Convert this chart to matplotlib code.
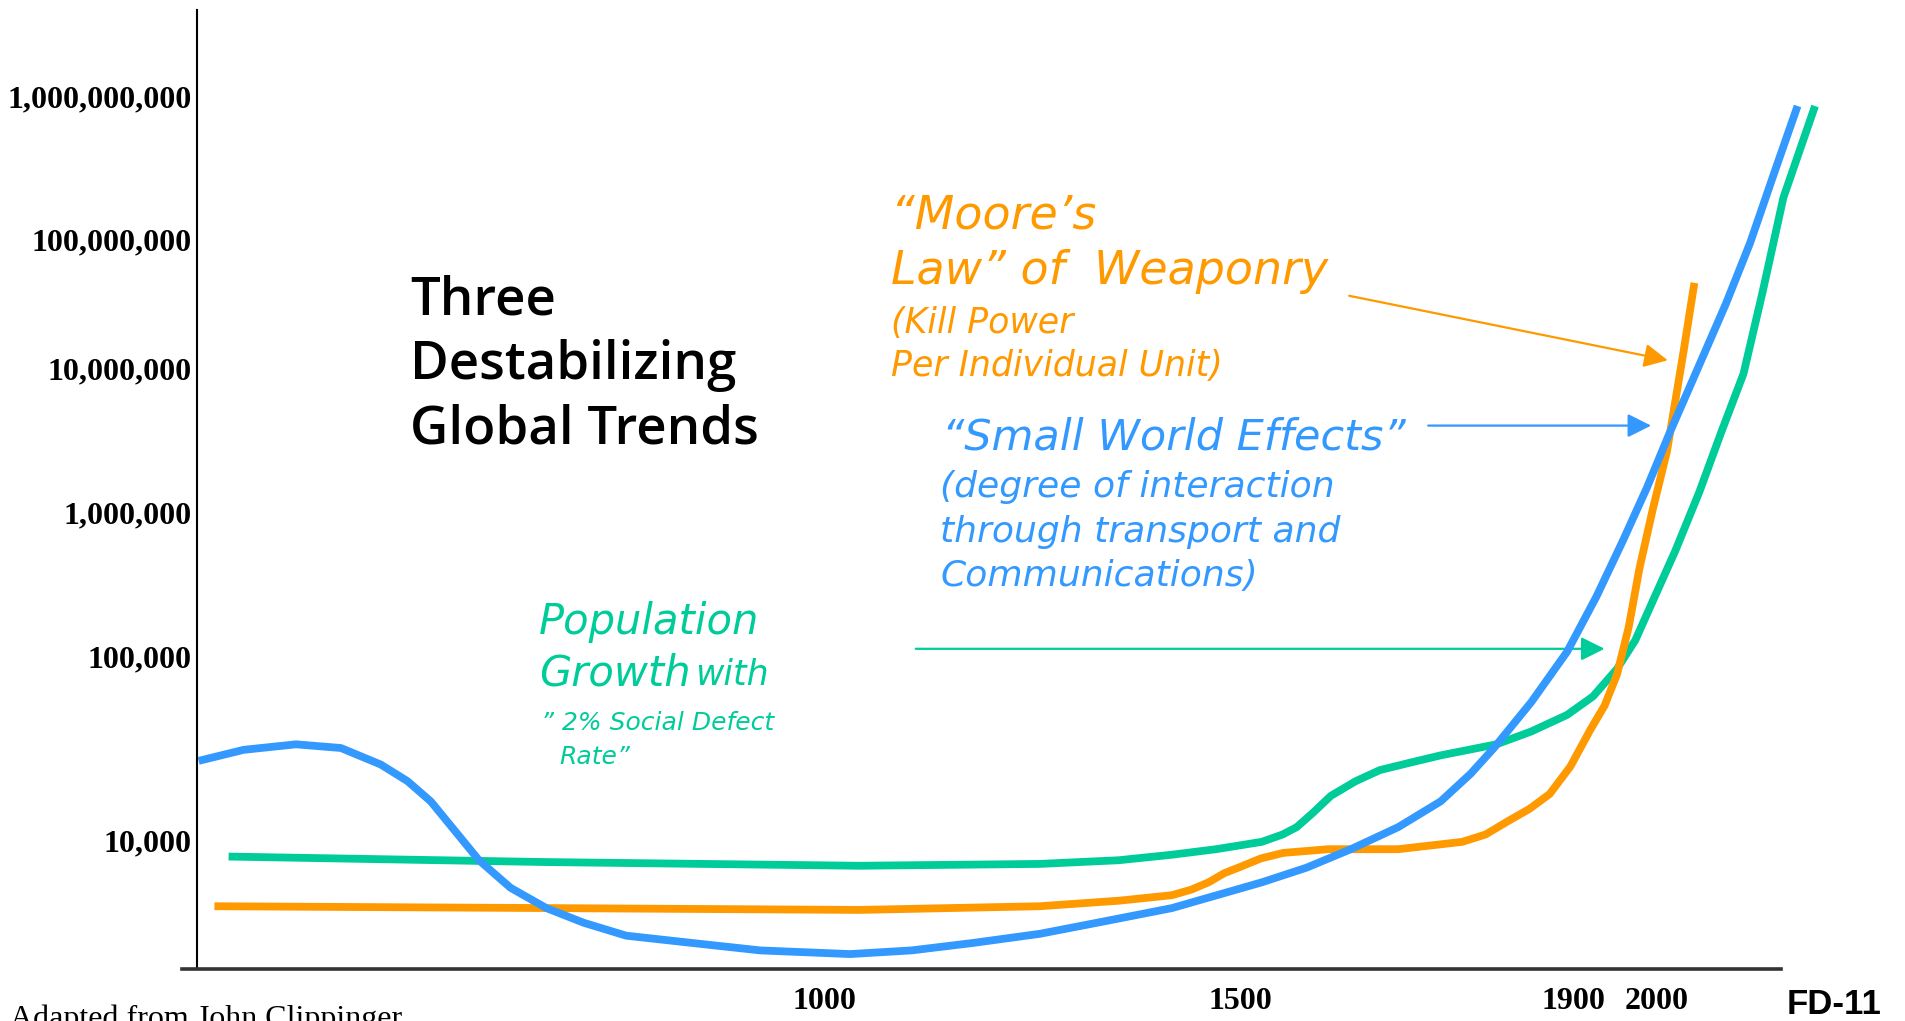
import numpy as np
import matplotlib.pyplot as plt

W, H = 1906, 1021

# curves: year vs order of magnitude (log10)
blue_year = [248, 302, 365, 419, 467, 499, 527, 556, 585, 623, 666, 711, 762, 842, 923,
             1031, 1105, 1178, 1259, 1339, 1418, 1526, 1580, 1633, 1690, 1741, 1777,
             1805, 1850, 1893, 1928, 1960, 1989, 2017, 2045, 2084, 2113, 2143, 2170]
blue_exp = [4.43, 4.49, 4.52, 4.50, 4.41, 4.32, 4.21, 4.05, 3.89, 3.74, 3.63, 3.55, 3.48,
            3.44, 3.40, 3.38, 3.40, 3.44, 3.49, 3.56, 3.63, 3.77, 3.85, 3.95, 4.07, 4.21,
            4.36, 4.50, 4.75, 5.03, 5.41, 5.80, 6.17, 6.56, 6.93, 7.50, 7.97, 8.48, 8.93]

green_year = [284, 667, 1042, 1259, 1354, 1418, 1471, 1526, 1551, 1568, 1588, 1609, 1639,
              1668, 1704, 1741, 1808, 1850, 1893, 1924, 1953, 1975, 1992, 2023, 2052,
              2078, 2105, 2128, 2153, 2191]
green_exp = [3.91, 3.88, 3.86, 3.87, 3.89, 3.92, 3.95, 3.99, 4.03, 4.07, 4.15, 4.24, 4.32,
             4.38, 4.42, 4.46, 4.52, 4.59, 4.68, 4.78, 4.93, 5.11, 5.33, 5.73, 6.14,
             6.55, 6.96, 7.59, 8.29, 8.93]

orange_year = [267, 667, 1042, 1259, 1354, 1418, 1441, 1462, 1481, 1498, 1525, 1552, 1606,
               1690, 1767, 1795, 1821, 1848, 1872, 1897, 1921, 1938, 1953, 1967, 1980,
               1996, 2013, 2033, 2046]
orange_exp = [3.64, 3.63, 3.62, 3.64, 3.67, 3.70, 3.73, 3.77, 3.82, 3.85, 3.90, 3.93, 3.95,
              3.95, 3.99, 4.03, 4.10, 4.17, 4.25, 4.40, 4.60, 4.73, 4.90, 5.20, 5.61,
              6.02, 6.42, 7.13, 7.66]

y_ticks = [1e4, 1e5, 1e6, 1e7, 1e8, 1e9]
x_ticks = [1000, 1500, 1900, 2000]

BLUE = '#3399ff'
GREEN = '#00cc99'
ORANGE = '#ff9900'

# the y axis is not evenly spaced per decade in the original
EXP = np.array([4, 5, 6, 7, 8, 9], dtype=float)
POS = np.array([129, 313, 457, 601, 730, 873], dtype=float)


def fwd(v):
    l = np.log10(np.maximum(v, 1e-300))
    p = np.interp(l, EXP, POS)
    p = np.where(l < EXP[0], POS[0] + (l - EXP[0]) * (POS[1] - POS[0]), p)
    p = np.where(l > EXP[-1], POS[-1] + (l - EXP[-1]) * (POS[-1] - POS[-2]), p)
    return p


def inv(p):
    p = np.asarray(p, dtype=float)
    l = np.interp(p, POS, EXP)
    l = np.where(p < POS[0], EXP[0] + (p - POS[0]) / (POS[1] - POS[0]), l)
    l = np.where(p > POS[-1], EXP[-1] + (p - POS[-1]) / (POS[-1] - POS[-2]), l)
    return 10 ** l


fig = plt.figure(figsize=(W / 100, H / 100), dpi=100)
ax = fig.add_axes([182 / W, (H - 969) / H, (1830 - 182) / W, (969 - 10) / H])
ax.set_yscale('function', functions=(fwd, inv))
ax.set_xlim(228, 2209)
ax.set_ylim(float(inv(0)), float(inv(959)))

lw = 5.6
ax.plot(green_year, 10 ** np.array(green_exp), color=GREEN, lw=lw,
        solid_capstyle='butt', solid_joinstyle='round', zorder=2)
ax.plot(orange_year, 10 ** np.array(orange_exp), color=ORANGE, lw=lw,
        solid_capstyle='butt', solid_joinstyle='round', zorder=3)
ax.plot(blue_year, 10 ** np.array(blue_exp), color=BLUE, lw=lw,
        solid_capstyle='butt', solid_joinstyle='round', zorder=4)

# pointer arrows
arr = dict(arrowstyle='-|>,head_length=0.4,head_width=0.2', mutation_scale=36,
           lw=1.6, shrinkA=0, shrinkB=0)
ax.annotate('', xy=(2014, 10 ** 7.06), xytext=(1631, 10 ** 7.56),
            arrowprops=dict(arr, color=ORANGE))
ax.annotate('', xy=(1994, 10 ** 6.60), xytext=(1726, 10 ** 6.60),
            arrowprops=dict(arr, color=BLUE))
ax.annotate('', xy=(1938, 10 ** 5.05), xytext=(1110, 10 ** 5.05),
            arrowprops=dict(arr, color=GREEN))

# axes look
for s in ['top', 'right']:
    ax.spines[s].set_visible(False)
ax.spines['left'].set_position(('data', 246))
ax.spines['left'].set_linewidth(1.5)
ax.spines['bottom'].set_linewidth(2.6)
ax.spines['bottom'].set_color('#333333')
ax.spines['bottom'].set_bounds(228, 2150)

ax.set_yticks(y_ticks)
ax.set_yticklabels([f'{int(v):,}' for v in y_ticks])
ax.yaxis.set_minor_locator(plt.NullLocator())
ax.set_xticks(x_ticks)
ax.set_xticklabels([str(v) for v in x_ticks])
ax.tick_params(axis='y', length=0, pad=3.6)
ax.tick_params(axis='x', length=0, pad=13)
for lab in ax.get_xticklabels() + ax.get_yticklabels():
    lab.set_fontfamily('Liberation Serif')
    lab.set_fontweight('bold')
    lab.set_fontsize(23)


def px(x, y):
    return x / W, 1 - y / H


# title block
for txt, y in [('Three', 301), ('Destabilizing', 366), ('Global Trends', 430)]:
    fig.text(*px(410, y), txt, fontsize=38, family='Open Sans', fontweight='semibold',
             va='center', ha='left')

ital = dict(family='DejaVu Sans', style='oblique', va='center', ha='left')
fig.text(*px(891, 216), '\u201cMoore\u2019s', fontsize=33, color=ORANGE, **ital)
fig.text(*px(891, 272), 'Law\u201d of  Weaponry', fontsize=33, color=ORANGE, **ital)
fig.text(*px(891, 323), '(Kill Power', fontsize=25, color=ORANGE, **ital)
fig.text(*px(891, 366), 'Per Individual Unit)', fontsize=25, color=ORANGE, **ital)

fig.text(*px(942, 438), '\u201cSmall World Effects\u201d', fontsize=31, color=BLUE, **ital)
fig.text(*px(940, 487), '(degree of interaction', fontsize=26, color=BLUE, **ital)
fig.text(*px(940, 532), 'through transport and', fontsize=26, color=BLUE, **ital)
fig.text(*px(940, 576), 'Communications)', fontsize=26, color=BLUE, **ital)

fig.text(*px(539, 622), 'Population', fontsize=30, color=GREEN, **ital)
fig.text(*px(539, 673), 'Growth', fontsize=30, color=GREEN, **ital)
fig.text(*px(695, 675), 'with', fontsize=25, color=GREEN, **ital)
fig.text(*px(541, 723), '\u201d 2% Social Defect', fontsize=18, color=GREEN, **ital)
fig.text(*px(559, 757), 'Rate\u201d', fontsize=18, color=GREEN, **ital)

fig.text(*px(10, 1004), 'Adapted from John Clippinger', fontsize=23,
         family='Liberation Serif', va='top', ha='left')
fig.text(*px(1787, 1004), 'FD-11', fontsize=25, family='Liberation Sans',
         fontweight='bold', va='center', ha='left')

fig.savefig('out.png', dpi=100)
